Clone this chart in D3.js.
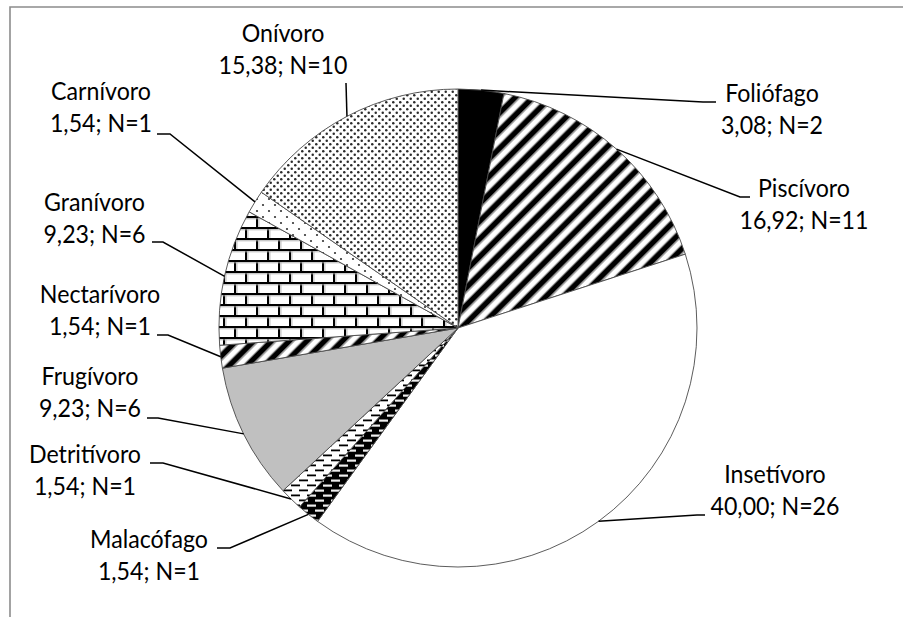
<!DOCTYPE html>
<html>
<head>
<meta charset="utf-8">
<script src="https://cdn.jsdelivr.net/npm/d3@7/dist/d3.min.js"></script>
<style>
  html, body { margin: 0; padding: 0; background: #fff; }
  svg { display: block; }
</style>
</head>
<body>
<svg id="chart" width="903" height="617"></svg>
<script>
// ---- Data ----
const categories = ["Foliófago","Piscívoro","Insetívoro","Malacófago","Detritívoro","Frugívoro","Nectarívoro","Granívoro","Carnívoro","Onívoro"];
const percents   = [3.08, 16.92, 40.00, 1.54, 1.54, 9.23, 1.54, 9.23, 1.54, 15.38];
const counts     = [2, 11, 26, 1, 1, 6, 1, 6, 1, 10];

// ---- Layout (label placement, pixels) ----
const labelCx   = [772, 804, 775, 149, 85, 90, 100, 94.5, 101, 283];
const labelY1   = [102, 197, 483, 548, 463, 385, 303, 211, 100, 42];
// stub: [xNearLabel, xElbow, y]
const labelStub = [[716,703,102],[750,740,197],[705,697,515],[217,230,548],[150,163,463],
                   [147,158,418],[157,168,335],[152,163,242],[157,170,134],[346,346,83]];
const fills = ["#000","url(#stripes)","#fff","url(#dashW)","url(#dashB)","#c0c0c0",
               "url(#stripes)","url(#bricks)","url(#dotsSparse)","url(#dots)"];

const W = 903, H = 617;
const cx = 458, cy = 328, R = 239;
const svg = d3.select("#chart");
const defs = svg.append("defs");

// stripes
const SP = 12.5;
const ps = defs.append("pattern").attr("id","stripes").attr("patternUnits","userSpaceOnUse")
  .attr("width",SP).attr("height",SP).attr("patternTransform","rotate(45)");
ps.append("rect").attr("width",SP).attr("height",SP).attr("fill","#fff");
ps.append("rect").attr("x",0).attr("width",5.2).attr("height",SP).attr("fill","#000");
ps.append("rect").attr("x",5.2).attr("width",1.1).attr("height",SP).attr("fill","#777");
ps.append("rect").attr("x",SP-1.1).attr("width",1.1).attr("height",SP).attr("fill","#777");

// bricks
const pb = defs.append("pattern").attr("id","bricks").attr("patternUnits","userSpaceOnUse")
  .attr("width",22).attr("height",22).attr("x",cx).attr("y",cy);
pb.append("rect").attr("width",22).attr("height",22).attr("fill","#fff");
pb.append("path").attr("d","M0,0.9H22M0,11.9H22M1,0V11M12,11V22")
  .attr("stroke","#000").attr("stroke-width",2).attr("fill","none");
pb.append("path").attr("d","M0,2.8H22M0,13.8H22M2.9,2V11M13.9,13V22")
  .attr("stroke","#aaa").attr("stroke-width",0.9).attr("fill","none");

// dots (dense)
const pd = defs.append("pattern").attr("id","dots").attr("patternUnits","userSpaceOnUse")
  .attr("width",7).attr("height",7);
pd.append("rect").attr("width",7).attr("height",7).attr("fill","#fff");
pd.append("circle").attr("cx",1.75).attr("cy",1.75).attr("r",1.25).attr("fill","#2a2a2a");
pd.append("circle").attr("cx",5.25).attr("cy",5.25).attr("r",1.25).attr("fill","#2a2a2a");

// dots (sparse)
const pd2 = defs.append("pattern").attr("id","dotsSparse").attr("patternUnits","userSpaceOnUse")
  .attr("width",12).attr("height",12);
pd2.append("rect").attr("width",12).attr("height",12).attr("fill","#fff");
pd2.append("circle").attr("cx",3).attr("cy",3).attr("r",1.1).attr("fill","#333");
pd2.append("circle").attr("cx",9).attr("cy",9).attr("r",1.1).attr("fill","#333");

// dashes
function dashPattern(id, bg, fg, h) {
  const p = defs.append("pattern").attr("id",id).attr("patternUnits","userSpaceOnUse")
    .attr("width",16).attr("height",10);
  p.append("rect").attr("width",16).attr("height",10).attr("fill",bg);
  p.append("rect").attr("x",1).attr("y",1.5).attr("width",9).attr("height",h).attr("fill",fg);
  p.append("rect").attr("x",9).attr("y",6.5).attr("width",7).attr("height",h).attr("fill",fg);
  p.append("rect").attr("x",0).attr("y",6.5).attr("width",2).attr("height",h).attr("fill",fg);
}
dashPattern("dashB","#fff","#000",1.8);
dashPattern("dashW","#000","#eee",2.2);

// frame
svg.append("path").attr("d",`M10,${H+5}V7H${W+5}`).attr("fill","none")
  .attr("stroke","#8c8c8c").attr("stroke-width",1.6);

// pie
const data = categories.map((c,i)=>({cat:c, pct:percents[i], n:counts[i], i}));
const pie = d3.pie().value(d=>d.pct).sort(null).startAngle(0).endAngle(2*Math.PI);
const arcs = pie(data);
const arc = d3.arc().innerRadius(0).outerRadius(R);
const g = svg.append("g").attr("transform",`translate(${cx},${cy})`);
g.selectAll("path.slice").data(arcs).join("path").attr("class","slice")
  .attr("d",arc)
  .attr("fill",d=>fills[d.data.i])
  .attr("stroke","#4a4a4a").attr("stroke-width",0.9).attr("stroke-linejoin","round");

// font sizing: match reference width of "16,92; N=11" (~128px)
const fontFamily = "Lato, 'Open Sans', sans-serif";
const tmp = svg.append("text").attr("font-family",fontFamily).attr("font-size",100).text("16,92; N=11");
const fs = 100 * 129 / tmp.node().getComputedTextLength();
tmp.remove();

const fmt = v => d3.format(".2f")(v).replace(".", ",");

// leader lines
const lineLayer = svg.append("g");
arcs.forEach(d=>{
  const i = d.data.i;
  const mid = (d.startAngle + d.endAngle)/2;
  const px = cx + R*Math.sin(mid), py = cy - R*Math.cos(mid);
  const s = labelStub[i];
  lineLayer.append("path")
    .attr("d",`M${px},${py}L${s[1]},${s[2]}L${s[0]},${s[2]}`)
    .attr("fill","none").attr("stroke","#000").attr("stroke-width",1.5);
});

// labels
const lab = svg.append("g").attr("font-family",fontFamily).attr("font-size",fs)
  .attr("fill","#000").attr("text-anchor","middle");
data.forEach(d=>{
  const t = lab.append("text").attr("x",labelCx[d.i]).attr("y",labelY1[d.i])
    .attr("transform",`translate(0,${labelY1[d.i]}) scale(1,1.08) translate(0,${-labelY1[d.i]})`);
  t.append("tspan").attr("x",labelCx[d.i]).attr("y",labelY1[d.i]).text(d.cat);
  t.append("tspan").attr("x",labelCx[d.i]).attr("y",labelY1[d.i]+32.5/1.08)
    .text(`${fmt(d.pct)}; N=${d.n}`);
});
</script>
</body>
</html>
